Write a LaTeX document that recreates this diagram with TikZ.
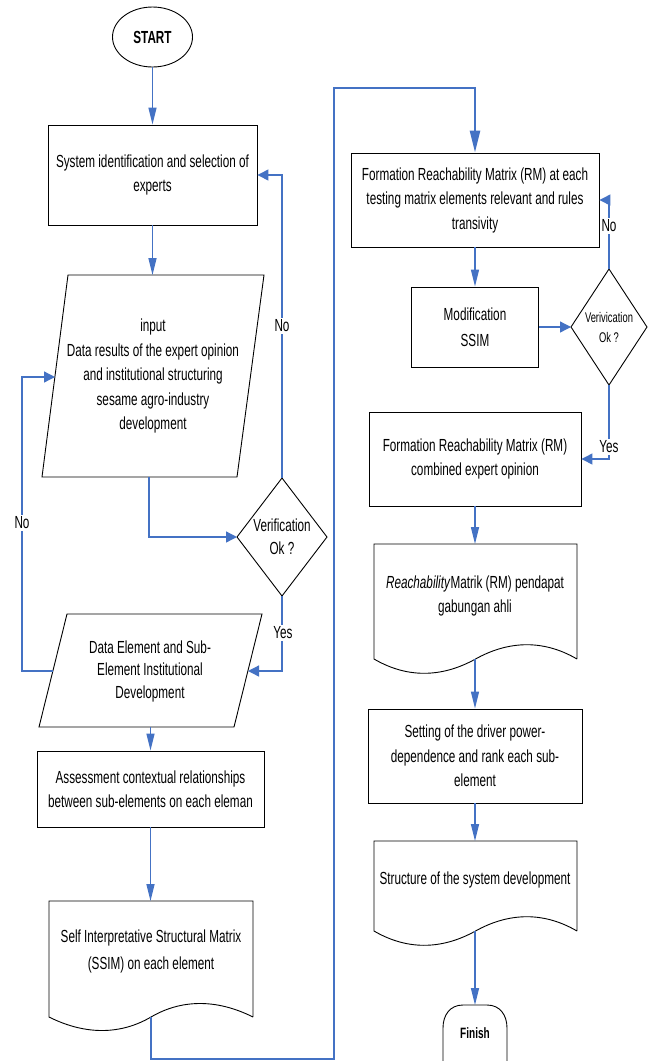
\documentclass[tikz,border=0pt]{standalone}
\usepackage{fontspec}
\setmainfont[FakeStretch=0.67]{Liberation Sans}
\usetikzlibrary{arrows.meta,shapes.geometric}
\definecolor{flowblue}{RGB}{68,114,196}
\begin{document}
\begin{tikzpicture}[x=1pt,y=-1pt,
  every node/.style={font=\fontsize{17.5}{24.5}\selectfont, align=center, inner sep=0pt},
  box/.style={draw=black, line width=0.9pt, rectangle},
  shapeline/.style={draw=black, line width=0.9pt},
  conn/.style={draw=flowblue, line width=1.3pt},
  thickconn/.style={draw=flowblue, line width=2.6pt},
  varrow/.style={-{Triangle[length=17pt,width=8pt]}},
  harrow/.style={-{Triangle[length=11pt,width=11pt]}},
  bigarrow/.style={-{Triangle[length=22pt,width=10pt]}},
  lbl/.style={fill=white, inner sep=1.5pt},
  boldtxt/.style={font=\bfseries\fontsize{17.5}{20}\selectfont},
]
\path[use as bounding box] (0,0) rectangle (653,1061);
\clip (0,0) rectangle (653,1061);

% ---------- left column ----------
\node[draw=black, line width=0.9pt, ellipse, minimum width=80pt, minimum height=60pt, boldtxt] (start) at (152.5,37) {START};

\node[box, minimum width=209pt, minimum height=100pt] (b1) at (152.5,175) {System identification and selection of\\experts};

\draw[shapeline] (68,275) -- (264,275) -- (237,477) -- (42,477) -- cycle;
\coordinate (p1top) at (152.5,275);
\coordinate (p1out) at (149,477);
\coordinate (p1in) at (55,377);
\node (p1) at (153,376) {input\\Data results of the expert opinion\\and institutional structuring\\sesame agro-industry\\development};

\draw[shapeline] (237,537) -- (282,478) -- (327,537) -- (282,596) -- cycle;
\coordinate (d1l) at (237,537);
\coordinate (d1t) at (282,478);
\coordinate (d1b) at (282,596);
\node[font=\fontsize{17.5}{23}\selectfont] (d1) at (282,537) {Verification\\Ok ?};

\draw[shapeline] (67,614) -- (262,614) -- (234,727) -- (39,727) -- cycle;
\coordinate (p2in) at (248,671);
\coordinate (p2out) at (53,671);
\coordinate (p2bot) at (150.5,727);
\coordinate (loopL) at (22,671);
\node[font=\fontsize{17.5}{22.5}\selectfont] (p2) at (150,671) {Data Element and Sub-\\Element Institutional\\Development};

\node[box, minimum width=227pt, minimum height=76pt] (as) at (150.5,789) {Assessment contextual relationships\\between sub-elements on each eleman};

\draw[shapeline] (253,1017) -- (253,901) -- (49,901) -- (49,1017)
  .. controls (87,1036) and (122,1034) .. (151,1017)
  .. controls (180,1000) and (215,998) .. (253,1017);
\coordinate (s1top) at (150.5,901);
\coordinate (s1bot) at (151,1017);
\node[font=\fontsize{17.5}{27}\selectfont] (s1) at (151,951) {Self Interpretative Structural Matrix\\(SSIM) on each element};

% ---------- right column ----------
\node[box, minimum width=248pt, minimum height=94pt] (rm1) at (475,200) {Formation Reachability Matrix (RM) at each\\testing matrix elements relevant and rules\\transivity};

\node[box, minimum width=127pt, minimum height=80pt, font=\fontsize{17.5}{26}\selectfont] (mod) at (475,327) {Modification\\SSIM};

\draw[shapeline] (571,327) -- (609,269) -- (647,327) -- (609,385) -- cycle;
\coordinate (d2l) at (571,327);
\coordinate (d2t) at (609,269);
\coordinate (d2b) at (609,385);
\node[font=\fontsize{14}{20}\selectfont] (d2) at (609,327) {Verivication\\Ok ?};

\node[box, minimum width=212pt, minimum height=94pt] (rm2) at (475,459) {Formation Reachability Matrix (RM)\\combined expert opinion};

\draw[shapeline] (577,659) -- (577,544) -- (374,544) -- (374,659)
  .. controls (410,680) and (445,676) .. (475.5,659)
  .. controls (506,642) and (541,638) .. (577,659);
\coordinate (dc2top) at (475,544);
\coordinate (dc2bot) at (475,659);
\node (dc2) at (475,596) {\textit{Reachability}Matrik (RM) pendapat\\gabungan ahli};

\node[box, minimum width=214pt, minimum height=94pt] (b3) at (475,756) {Setting of the driver power-\\dependence and rank each sub-\\element};

\draw[shapeline] (577,931) -- (577,841) -- (374,841) -- (374,931)
  .. controls (410,952) and (445,948) .. (475.5,931)
  .. controls (506,914) and (541,910) .. (577,931);
\coordinate (dc3top) at (475,841);
\coordinate (dc3bot) at (475,931);
\node (dc3) at (475,880) {Structure of the system development};

\draw[shapeline] (443,1085) -- (443,1028) .. controls (443,1015) and (450,1005) .. (463,1005)
  -- (487,1005) .. controls (500,1005) and (507,1015) .. (507,1028) -- (507,1085);
\coordinate (fintop) at (475,1005);
\node[font=\bfseries\fontsize{15}{18}\selectfont] (fin) at (475,1033) {Finish};

% ---------- connectors ----------
\draw[conn,varrow] (start.south) -- (b1.north);
\draw[conn,varrow] (b1.south) -- (p1top);
\draw[conn,harrow] (p1out) |- (d1l);
\draw[conn,harrow] (d1t) |- (b1.east);
\draw[conn,harrow] (d1b) |- (p2in);
\draw[conn,harrow] (p2out) -- (loopL) |- (p1in);
\draw[conn,varrow] (p2bot) -- (as.north);
\draw[conn,varrow] (as.south) -- (s1top);

\coordinate (bendA) at (151,1059);
\coordinate (bendB) at (334,1059);
\coordinate (bendC) at (334,88);
\coordinate (bendD) at (475,88);
\draw[thickconn,bigarrow] (s1bot) -- (bendA) -- (bendB) -- (bendC) -- (bendD) -- (rm1.north);

\draw[conn,varrow] (rm1.south) -- (mod.north);
\draw[conn,harrow] (mod.east) -- (d2l);
\draw[conn,harrow] (d2t) |- (rm1.east);
\draw[conn,harrow] (d2b) |- (rm2.east);
\draw[conn,varrow] (rm2.south) -- (dc2top);
\draw[conn,varrow] (dc2bot) -- (b3.north);
\draw[conn,varrow] (b3.south) -- (dc3top);
\draw[conn,varrow] (dc3bot) -- (fintop);

% ---------- labels ----------
\node[lbl] (no1) at (282,326) {No};
\node[lbl] (yes1) at (283,633) {Yes};
\node[lbl] (no2) at (22,523) {No};
\node[lbl] (no3) at (609,226) {No};
\node[lbl] (yes2) at (609,447) {Yes};
\end{tikzpicture}
\end{document}
